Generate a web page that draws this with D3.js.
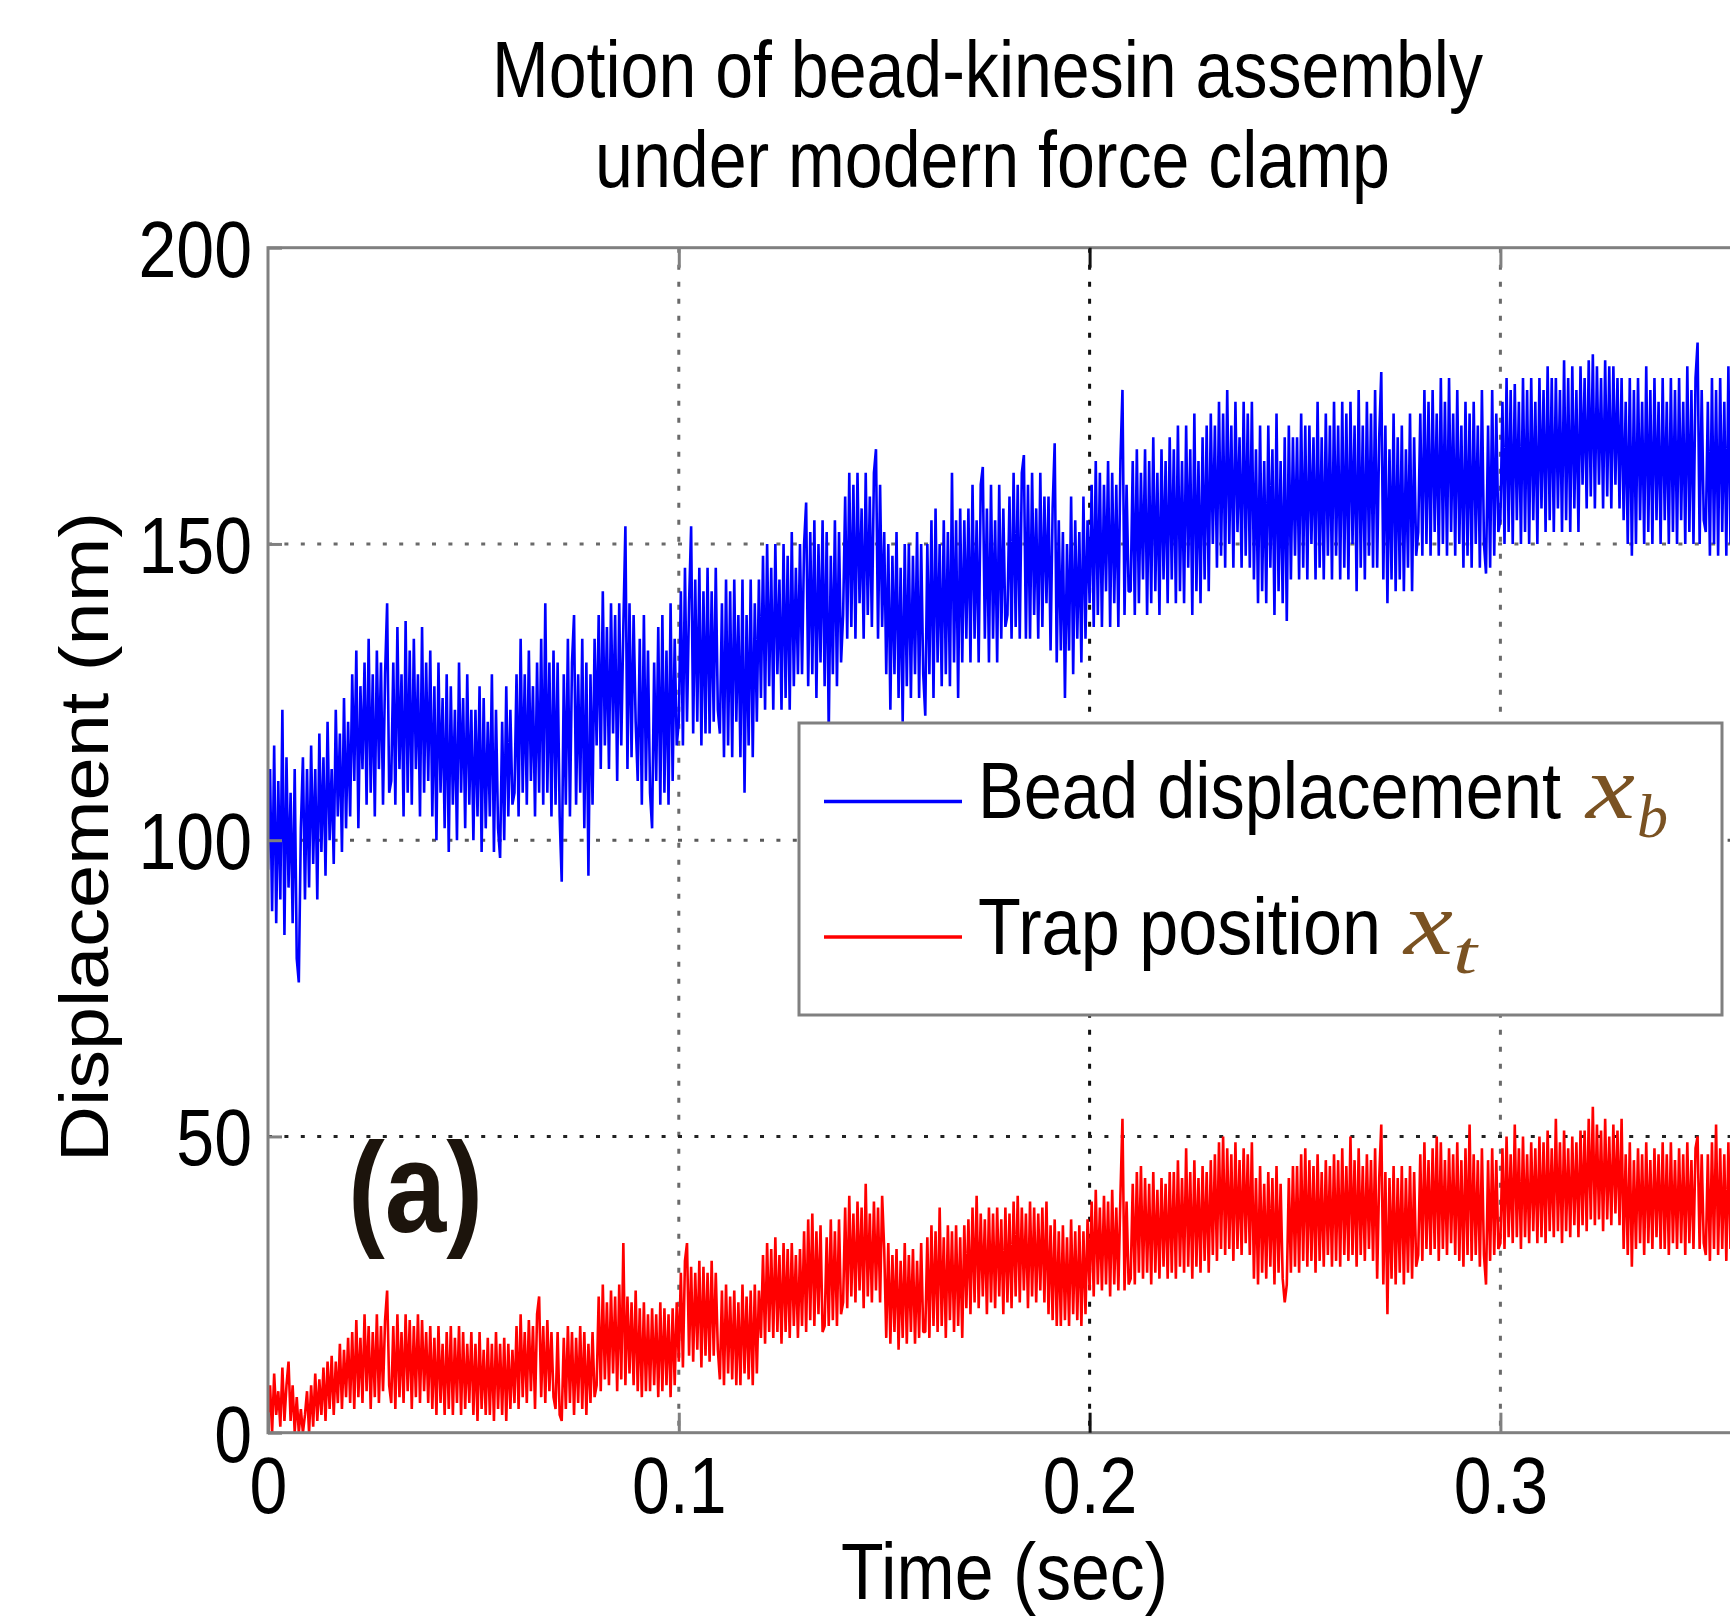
<!DOCTYPE html>
<html>
<head>
<meta charset="utf-8">
<script src="https://cdn.jsdelivr.net/npm/d3@7/dist/d3.min.js"></script>
<style>
  html, body { margin: 0; padding: 0; background: #fff; }
  svg { display: block; }
</style>
</head>
<body>
<svg id="chart" width="1730" height="1616"></svg>
<script>
// ---------------- DATA ----------------
const titleLines = ["Motion of bead-kinesin assembly", "under modern force clamp"];
const xLabel = "Time (sec)";
const yLabel = "Displacement (nm)";
const panelLabel = "(a)";
const legendNames = ["Bead displacement", "Trap position"];
const legendSymbols = [["x", "b"], ["x", "t"]];
const xTicks = [0, 0.1, 0.2, 0.3];
const xTickLabels = ["0", "0.1", "0.2", "0.3"];
const yTicks = [0, 50, 100, 150, 200];
const yTickLabels = ["0", "50", "100", "150", "200"];
const sampleStep = 0.0005; // seconds between samples

// Bead displacement x_b (nm), one value every 0.5 ms from t = 0 (20 values = 10 ms per row)
const beadNm = [
  95,112,88,116,86,110,90,122,84,114,92,108,86,112,80,76,102,114,90,112,
  92,116,96,112,90,118,98,114,94,120,100,112,96,122,104,118,98,124,102,120,
  104,128,110,132,102,126,112,130,106,134,108,128,104,132,112,130,106,128,140,108,
  110,130,106,136,112,128,104,137,108,132,106,134,112,128,104,136,108,130,110,132,
  104,126,100,130,108,124,102,128,98,126,106,122,100,130,108,124,102,128,106,122,
  100,122,104,126,98,124,102,120,104,128,98,122,102,97,120,100,126,104,122,106,
  108,128,104,134,108,128,106,132,110,126,104,130,108,134,106,140,108,130,104,132,
  106,130,104,93,128,106,134,104,130,138,106,128,108,134,102,130,94,128,106,134,
  116,138,112,142,116,136,112,140,118,138,110,140,116,136,153,112,140,114,138,120,
  110,134,106,138,110,132,108,102,130,110,136,106,138,108,132,106,140,110,134,116,
  120,142,116,146,120,140,153,118,144,120,146,116,142,118,146,118,142,120,146,122,
  118,140,114,144,116,142,114,144,120,138,114,144,108,138,116,144,114,140,120,144,
  124,148,122,150,126,146,122,150,128,144,122,150,124,148,122,152,126,146,128,150,
  128,150,157,126,152,128,154,124,150,130,154,126,152,118,148,128,154,126,152,130,
  138,158,134,162,136,160,134,162,140,156,134,162,138,158,136,162,166,134,160,136,
  152,128,150,122,148,128,152,124,146,120,150,126,150,124,148,128,152,124,150,128,
  121,150,128,154,124,156,130,150,126,154,128,152,126,162,130,154,124,156,130,154,
  134,156,130,160,134,154,130,160,163,134,156,130,160,134,154,130,160,134,156,136,
  138,158,134,162,136,160,134,162,165,134,160,134,162,138,156,134,162,136,158,140,
  158,132,156,167,130,154,132,152,124,150,132,158,128,154,134,152,130,158,134,154,
  140,160,136,164,138,162,136,160,142,164,136,162,140,160,136,164,176,138,160,142,
  142,164,138,166,140,162,144,166,138,164,140,168,142,162,138,166,144,164,140,168,
  144,166,140,170,142,164,140,170,146,166,138,172,142,164,140,168,144,170,142,172,
  150,170,146,174,148,172,146,176,150,170,146,174,152,168,146,174,148,172,146,174,
  144,166,140,170,142,164,140,170,146,166,138,172,142,164,140,168,137,170,144,168,
  148,168,144,172,146,170,144,170,150,168,144,174,146,168,144,172,148,170,144,174,
  148,170,144,174,146,172,144,174,150,170,142,176,146,170,144,174,148,172,146,176,
  146,168,179,144,170,140,166,144,172,142,168,144,170,142,166,146,172,142,168,148,
  152,172,148,176,150,174,148,176,152,172,148,178,150,174,148,178,152,172,148,176,
  150,170,146,174,148,172,146,174,150,170,146,176,150,145,170,146,176,148,172,152,
  154,174,150,178,152,176,150,177,154,174,150,178,152,176,150,178,154,174,150,178,
  156,176,152,180,154,178,152,178,156,176,152,181,154,178,152,180,156,176,152,180,
  160,178,156,181,158,182,156,180,160,178,156,181,158,180,156,180,160,178,156,178,
  154,174,150,178,148,176,150,178,154,174,150,180,152,176,150,178,154,174,150,178,
  154,174,150,178,152,176,150,178,154,174,150,180,152,176,150,178,184,150,176,154,
  152,174,148,178,150,176,148,178,152,174,148,180,150,176,150,178
];

// Trap position x_t (nm), one value every 0.5 ms from t = 0 (20 values = 10 ms per row)
const trapNm = [
  2,8,0,10,3,7,1,11,2,8,12,2,8,0,6,0,4,0,3,7,
  0,8,1,10,2,9,3,11,2,12,4,13,3,12,5,15,4,14,6,16,
  5,17,4,19,6,16,5,20,7,18,4,17,6,20,5,18,7,19,24,8,
  5,18,4,20,6,17,5,20,7,19,4,18,6,20,5,19,7,17,5,18,
  4,16,3,18,5,15,3,17,4,18,3,16,5,18,3,17,4,15,5,17,
  3,15,2,17,4,14,3,16,3,15,2,17,4,15,3,16,2,15,4,14,
  5,18,4,20,6,17,5,19,7,18,4,20,23,6,18,5,19,7,17,6,
  4,17,3,2,16,4,18,5,17,3,16,5,18,4,17,3,15,5,17,6,
  8,23,7,25,9,22,8,24,10,23,7,25,9,32,8,23,10,22,8,24,
  7,21,6,22,7,20,7,21,8,20,6,22,7,21,8,20,6,21,8,22,
  12,27,11,29,32,13,28,12,27,14,29,11,28,13,27,12,29,13,27,14,
  9,24,8,25,10,23,9,24,8,22,8,25,10,23,9,24,8,25,10,24,
  16,30,15,32,17,31,16,33,17,30,15,32,17,31,16,32,18,30,16,31,
  18,34,17,36,19,37,18,34,20,35,17,18,33,18,36,19,34,18,36,20,
  22,38,21,40,23,37,22,39,24,38,21,42,23,37,22,39,24,38,22,40,
  31,16,32,15,30,17,31,14,29,16,32,15,30,17,31,15,29,16,32,17,
  17,33,16,35,18,34,17,38,18,33,16,35,19,34,17,35,18,33,16,35,
  21,36,20,38,22,40,21,37,23,36,20,38,22,37,21,38,23,36,20,38,
  22,37,21,39,23,40,22,38,24,37,21,39,23,38,22,37,24,38,22,39,
  20,35,19,36,18,34,18,35,19,33,18,36,20,34,19,35,18,34,20,36,
  24,39,23,41,25,38,24,40,25,39,23,41,25,38,24,40,53,24,39,25,
  26,42,25,44,27,45,26,43,27,42,25,44,27,41,26,43,28,42,26,44,
  27,44,26,46,28,43,27,48,28,44,26,46,28,43,27,45,29,44,27,46,
  30,47,29,49,31,50,30,48,31,47,29,49,31,46,30,48,32,47,30,49,
  26,43,25,45,27,42,26,44,28,43,25,45,27,42,26,22,25,43,27,45,
  28,45,27,47,29,48,28,46,29,45,27,47,29,44,28,46,30,45,28,47,
  29,46,28,48,30,45,29,50,30,46,28,48,30,45,29,47,31,46,29,48,
  26,43,52,25,44,20,43,26,45,25,43,27,45,25,43,27,45,26,44,28,
  30,47,29,49,31,46,30,48,31,50,29,49,31,46,30,48,32,47,30,49,
  29,46,28,48,30,52,29,47,30,46,28,48,30,25,46,29,48,30,46,31,
  32,48,31,50,33,47,32,52,33,48,31,50,33,47,32,49,34,48,32,50,
  33,49,32,51,34,48,33,53,34,49,32,51,34,48,33,50,35,49,33,51,
  35,51,34,53,36,55,35,52,36,51,34,53,36,50,35,52,37,51,35,53,
  31,47,30,49,28,46,31,48,32,47,30,49,32,46,31,48,33,47,31,49,
  31,47,30,49,32,46,31,48,32,47,30,49,32,46,31,48,50,31,47,32,
  30,47,29,49,31,52,30,48,31,47,29,49,31,46,30,48
];

// ---------------- LAYOUT / STYLE ----------------
const plot = { left: 268, right: 1740, top: 247.7, bottom: 1432.7 };
const axisColor = "#808080";
const seriesColors = ["#0000ff", "#ff0000"];
const mathColor = "#7a5222";
const FONT = "'Liberation Sans', Arial, Helvetica, sans-serif";
const SERIF = "'Liberation Serif', 'Times New Roman', serif";
const squeeze = 0.85;

const svg = d3.select("#chart");

const x = d3.scaleLinear().domain([0, (plot.right - plot.left) / 4108]).range([plot.left, plot.right]);
const y = d3.scaleLinear().domain([0, 200]).range([plot.bottom, plot.top]);

// clip
svg.append("defs").append("clipPath").attr("id", "clip")
  .append("rect").attr("x", plot.left).attr("y", plot.top)
  .attr("width", plot.right - plot.left).attr("height", plot.bottom - plot.top);

// grid lines (behind data)
const grid = svg.append("g");
const gridColorX = { 0.1: "#6a6a6a", 0.2: "#111", 0.3: "#6a6a6a" };
const gridColorY = { 50: "#222", 100: "#5a5a5a", 150: "#6a6a6a" };
grid.selectAll("line.gx").data(xTicks.filter(d => d > 0)).enter().append("line")
  .attr("x1", d => x(d)).attr("x2", d => x(d))
  .attr("y1", plot.top).attr("y2", plot.bottom)
  .attr("stroke", d => gridColorX[d]).attr("stroke-width", 3)
  .attr("stroke-dasharray", "5,12");
grid.selectAll("line.gy").data(yTicks.filter(d => d > 0 && d < 200)).enter().append("line")
  .attr("x1", plot.left).attr("x2", plot.right)
  .attr("y1", d => y(d)).attr("y2", d => y(d))
  .attr("stroke", d => gridColorY[d]).attr("stroke-width", 3)
  .attr("stroke-dasharray", "4,12.4");

// data
const line = d3.line().x((d, i) => x(i * sampleStep)).y(d => y(d));
const dataG = svg.append("g").attr("clip-path", "url(#clip)");
[beadNm, trapNm].forEach((s, k) => {
  dataG.append("path").datum(s).attr("d", line)
    .attr("fill", "none").attr("stroke", seriesColors[k])
    .style("stroke-width", "2.6px").attr("stroke-linejoin", "bevel");
});

// axes box
svg.append("rect").attr("x", plot.left).attr("y", plot.top)
  .attr("width", plot.right - plot.left).attr("height", plot.bottom - plot.top)
  .attr("fill", "none").attr("stroke", axisColor).attr("stroke-width", 3);

// Bottom axis
const gx = svg.append("g").attr("transform", `translate(0,${plot.bottom})`)
  .call(d3.axisBottom(x).tickValues(xTicks).tickFormat((d, i) => xTickLabels[i]).tickSizeInner(-20).tickSizeOuter(0));
gx.select(".domain").remove();
gx.selectAll(".tick line").attr("stroke", (d) => d === 0.2 ? "#111" : axisColor).attr("stroke-width", 3);
gx.selectAll(".tick text")
  .attr("y", 80).attr("dy", 0)
  .attr("transform", `scale(${squeeze},1)`)
  .attr("text-anchor", "middle")
  .style("font-family", FONT).style("font-size", "80px").attr("fill", "#000");

// Top axis ticks
const gt = svg.append("g").attr("transform", `translate(0,${plot.top})`)
  .call(d3.axisTop(x).tickValues(xTicks.filter(d => d > 0)).tickFormat("").tickSizeInner(-20).tickSizeOuter(0));
gt.select(".domain").remove();
gt.selectAll(".tick line").attr("stroke", (d) => d === 0.2 ? "#111" : axisColor).attr("stroke-width", 3);

// Left axis
const gy = svg.append("g").attr("transform", `translate(${plot.left},0)`)
  .call(d3.axisLeft(y).tickValues(yTicks).tickFormat((d, i) => yTickLabels[i]).tickSizeInner(-14).tickSizeOuter(0));
gy.select(".domain").remove();
gy.selectAll(".tick line").attr("stroke", axisColor).attr("stroke-width", 3);
gy.selectAll(".tick text")
  .attr("x", -16 / squeeze).attr("dy", 28.5)
  .attr("transform", `scale(${squeeze},1)`)
  .attr("text-anchor", "end")
  .style("font-family", FONT).style("font-size", "80px").attr("fill", "#000");

// helper for text with fixed length
function addText(parent, str, o) {
  const t = parent.append("text").text(str)
    .attr("x", o.x).attr("y", o.y)
    .attr("text-anchor", o.anchor || "start")
    .style("font-family", o.family || FONT)
    .style("font-size", o.size + "px")
    .style("font-weight", o.weight || "normal")
    .style("font-style", o.style || "normal")
    .attr("fill", o.fill || "#000");
  if (o.width) t.attr("textLength", o.width).attr("lengthAdjust", "spacingAndGlyphs");
  return t;
}

// Title
addText(svg, titleLines[0], { x: 492, y: 97, size: 80, width: 991 });
addText(svg, titleLines[1], { x: 595, y: 187, size: 80, width: 795 });

// X label
addText(svg, xLabel, { x: 841, y: 1599, size: 80, width: 327 });

// Y label
const yl = svg.append("g").attr("transform", `translate(108,837) scale(${squeeze},1)`);
addText(yl, yLabel, { x: 0, y: 0, size: 80, width: 650, anchor: "middle" }).attr("transform", "rotate(-90)");

// Panel label
addText(svg, panelLabel, { x: 348, y: 1232, size: 128, width: 135, weight: "bold", fill: "#1c140c" });

// Legend
const lg = svg.append("g");
lg.append("rect").attr("x", 799).attr("y", 723).attr("width", 923).attr("height", 292)
  .attr("fill", "#fff").attr("stroke", axisColor).attr("stroke-width", 3);
const legendRows = [
  { ly: 801.5, ty: 818, textW: 583, mx: 1586, mw: 49, sx: 1637, sy: 837, sw: 31 },
  { ly: 937, ty: 954, textW: 403, mx: 1404, mw: 49, sx: 1453, sy: 973, sw: 24 }
];
legendRows.forEach((r, k) => {
  lg.append("line").attr("x1", 824).attr("x2", 962).attr("y1", r.ly).attr("y2", r.ly)
    .attr("stroke", seriesColors[k]).attr("stroke-width", 3.5);
  addText(lg, legendNames[k], { x: 978, y: r.ty, size: 80, width: r.textW });
  addText(lg, legendSymbols[k][0], { x: r.mx, y: r.ty, size: 92, width: r.mw, family: SERIF, style: "italic", fill: mathColor });
  addText(lg, legendSymbols[k][1], { x: r.sx, y: r.sy, size: 62, width: r.sw, family: SERIF, style: "italic", fill: mathColor });
});
</script>
</body>
</html>
